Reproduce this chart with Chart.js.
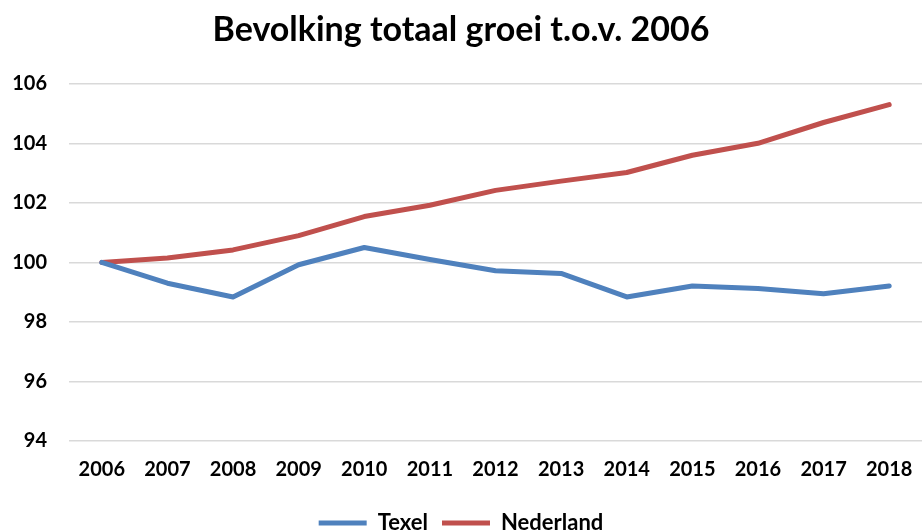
<!DOCTYPE html>
<html>
<head>
<meta charset="utf-8">
<script src="https://cdn.jsdelivr.net/npm/chart.js@4"></script>
<style>
  html, body { margin: 0; padding: 0; background: #ffffff; }
  #wrap { width: 922px; height: 532px; }
</style>
</head>
<body>
<div id="wrap"><canvas id="c" width="922" height="532"></canvas></div>
<script>
const titleText = "Bevolking totaal groei t.o.v. 2006";
const years = ["2006","2007","2008","2009","2010","2011","2012","2013","2014","2015","2016","2017","2018"];
const texel = [100, 99.3, 98.84, 99.92, 100.5, 100.1, 99.72, 99.63, 98.84, 99.21, 99.12, 98.95, 99.21];
const nederland = [100, 100.15, 100.42, 100.9, 101.54, 101.92, 102.42, 102.73, 103.02, 103.6, 104.0, 104.7, 105.3];
const yMin = 94, yMax = 106, yStep = 2;

const FONT = "Lato";
new Chart(document.getElementById("c"), {
  type: "line",
  data: {
    labels: years,
    datasets: [
      { label: "Texel", data: texel, borderColor: "#4F81BD", backgroundColor: "#4F81BD",
        borderWidth: 5, pointRadius: 0, borderCapStyle: "round", borderJoinStyle: "round", tension: 0 },
      { label: "Nederland", data: nederland, borderColor: "#C0504D", backgroundColor: "#C0504D",
        borderWidth: 5, pointRadius: 0, borderCapStyle: "round", borderJoinStyle: "round", tension: 0 }
    ]
  },
  options: {
    responsive: false,
    animation: false,
    devicePixelRatio: 1,
    layout: { padding: { left: 0, right: 0, top: 0, bottom: -12 } },
    plugins: {
      title: {
        display: true, text: titleText, color: "#000",
        font: { family: FONT, size: 34, weight: "bold" },
        padding: { top: 10, bottom: 33 }
      },
      legend: {
        position: "bottom",
        labels: {
          color: "#000", font: { family: FONT, size: 22, weight: "bold" },
          usePointStyle: true, pointStyle: "line", pointStyleWidth: 48, boxHeight: 22,
          padding: 14
        }
      },
      tooltip: { enabled: false }
    },
    scales: {
      x: {
        offset: true,
        grid: { display: false, drawTicks: false },
        border: { display: false },
        ticks: { color: "#000", font: { family: FONT, size: 20, weight: "bold" }, padding: 17, maxRotation: 0 },
        afterFit: (s) => { s.height = 57; s.paddingRight = 0; s.paddingLeft = 0; }
      },
      y: {
        min: yMin, max: yMax,
        grid: { color: "#D9D9D9", lineWidth: 1.5, drawTicks: false },
        border: { display: false },
        ticks: { stepSize: yStep, color: "#000", font: { family: FONT, size: 20, weight: "bold" }, padding: 22 },
        afterFit: (s) => { s.width = 69; }
      }
    }
  }
});
</script>
</body>
</html>
